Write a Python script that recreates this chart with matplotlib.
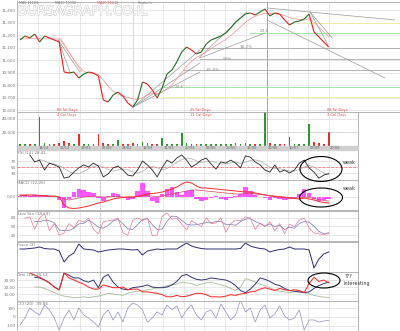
import numpy as np
import matplotlib.pyplot as plt
from matplotlib.collections import LineCollection
from matplotlib.patches import Ellipse
import matplotlib.patheffects as pe

nan = np.nan

# Price closes, one value per bar slot
close = [11160, 11192, 11176, 11208, 11144, 11192, 11176, 11160, 11144, 10904,
         10896, 10904, 10856, 10888, 10904, 10896, 10872, 10680, 10664, 10720,
         10744, 10712, 10656, 10624, 10680, 10824, 10808, 10760, 10696, 10776,
         10888, 10920, 10984, 11064, 11104, 11080, 11048, 11064, 11128, 11160,
         11176, 11192, 11216, 11256, 11304, 11336, 11368, 11376, 11360, 11384,
         11408, 11352, 11376, 11368, 11320, 11280, 11304, 11312, 11328, 11368,
         11224, 11184, 11144, 11104]
ma_slow = [11170, 11170, 11170, 11172, 11172, 11170, 11170, 11170, 11168, 11120,
           11060, 11000, 10950, 10910, 10895, 10890, 10885, 10840, 10790, 10750,
           10725, 10710, 10700, 10690, 10685, 10700, 10720, 10735, 10730, 10740,
           10770, 10800, 10850, 10900, 10950, 10990, 11020, 11040, 11065, 11090,
           11115, 11140, 11165, 11195, 11230, 11265, 11300, 11330, 11350, 11362,
           11375, 11372, 11370, 11366, 11355, 11340, 11330, 11322, 11320, 11330,
           11300, 11265, 11225, 11185]
volume = [3, 2.5, 3.5, 3, 42, 4, 2.5, 3, 4.5, 7,
          4, 3, 17, 3.5, 2.5, 3, 17, 5, 3.5, 3,
          9, 2.5, 3, 4, 3.5, 6, 4.5, 3, 3.5, 12,
          3, 2.5, 3.5, 19, 4, 3, 2.5, 3.5, 3, 2.5,
          3, 3.5, 2.5, 3, 4, 3.5, 4.5, 3, 2.5, 3.5,
          52, 4.5, 3, 2.5, 3.5, 13, 3, 2.5, 3.5, 32,
          6, 4, 3, 20]

rsi = [nan, nan, 90, 67, 73, 40, 63, 57, 50, 13, 17, 33, 47, 57, 50, 63, 53, 17, 27, 47,
       53, 40, 23, 20, 40, 70, 57, 40, 17, 47, 73, 63, 80, 90, 73, 50, 60, 73, 80, 60,
       43, 67, 63, 73, 63, 47, 87, 83, 67, 57, 40, 33, 57, 33, 40, 30, 40, 63, 73, 47,
       33, 13, 23, 28]
rsi_sig = [nan, nan, nan, nan, 75, 70, 62, 60, 55, 45, 35, 28, 28, 35, 45, 52, 55, 50, 42, 36,
           40, 44, 40, 34, 30, 35, 47, 52, 48, 40, 45, 55, 65, 75, 80, 78, 70, 65, 68, 70,
           65, 60, 60, 64, 66, 62, 66, 72, 74, 70, 60, 50, 45, 44, 40, 37, 36, 42, 50, 55,
           50, 40, 30, 25]

macd_hist = [1, 2, 1.5, 2, 1, 1.5, 1, 0.5, -3, -11, -2, 5, 8, 7, 5, 4, -1, -4, 1, 4,
             3, -1, -3, -2, 6, 14, 6, -4, -6, 3, 8, 10, 5, 2, 6, 7, -2, -4, -3, -1,
             1, -2, -3, -1, 1, 3, 10, 6, 2, 0, -1, -3, -1, -2, -3, -2, -1, 3, 8, 4,
             -2, -4, -3, -2]
macd_line = [2, 2, 2, 2, 1.5, 1.5, 1, 1, 0, -8, -11, -11.5, -11, -10, -9, -7.5, -6, -5, -3.5, -2,
             -1, -0.5, 0, 0, 0.5, 2, 3, 3.5, 4, 5, 6.5, 8, 10, 13, 15, 14, 11, 9, 9, 8.5,
             8, 7.5, 7, 6.5, 6, 5.5, 5, 5, 4, 3, 2, 1, 0.5, 0, -0.5, -1, -1.5, -2, -1, -2,
             -3, -4.5, -5.5, -6]
macd_sig = [1.5, 1.5, 1, 1, 1, 1, 0.5, 0.5, 0, -2, -3, -2, -1, 0, 0.5, 1, 0.5, 0, 0, 0.5,
            0.5, 0, 0, 0, 0.5, 1, 1.5, 1, 0.5, 1, 2, 3, 4, 5, 6, 7, 7, 6.5, 6, 5.5,
            5, 4.5, 4, 3.5, 3, 3, 3.5, 3.5, 3, 2.5, 2, 1.5, 1, 0.5, 0, -0.5, -1, -1, 0, -0.5,
            -1.5, -2.5, -3.5, -4]

stoch_k = [nan, 79, 83, 40, 79, 95, 35, 60, 20, 28, 60, 45, 72, 65, 79, 40, 25, 66, 70, 72,
           79, 28, 20, 72, 80, 70, 80, 18, 21, 85, 97, 75, 79, 58, 38, 70, 60, 50, 80, 60,
           62, 80, 30, 60, 72, 70, 83, 79, 40, 62, 50, 66, 35, 60, 25, 58, 50, 72, 79, 45,
           28, 25, 21, 30]
stoch_d = [nan, nan, nan, 67, 67, 71, 70, 63, 38, 36, 36, 44, 59, 61, 72, 61, 48, 44, 54, 69,
           74, 60, 42, 40, 57, 74, 77, 56, 40, 41, 68, 86, 84, 71, 58, 55, 56, 60, 63, 63,
           67, 67, 57, 57, 54, 67, 75, 77, 67, 60, 51, 59, 50, 54, 40, 48, 44, 60, 67, 65,
           51, 33, 25, 25]

force = [0, 0, 0.5, 1, 2, 0.5, 0, 0, -2, -13, -7, -4, 5, 0, -0.5, -1, -3, -2, -1, -0.5,
         0, 0, -0.5, -1, -0.5, -6, -2, -1, 0, -0.5, 0, 0, 0, 3, 6, 3, 1.5, 0.5, 0, 0,
         0, 0, 0, 0, 0, 0.5, 6, 3, 1.5, 0.5, 0, -3, -1.5, -0.5, 0, 2, 0, 0, 0, -1,
         -19, -10, -5, -3]

dmi_adx = [nan, nan, nan, 34, 33, 30, 26, 20, 16, 40, 37, 33, 33, 29, 27, 30, 19, 34, 38, 27,
           20, 17, 16, 19, 20, 21, 23, 20, 19, 19, 20, 23, 28, 36, 38, 34, 31, 30, 31, 33,
           32, 31, 30, 27, 22, 15, 12, 17, 24, 33, 31, 28, 24, 22, 18, 15, 14, 13, 12, 13,
           18, 22, 25, 27]
dmi_plus = [nan, nan, 40, 37, 34, 30, 26, 20, 16, 40, 33, 30, 27, 24, 20, 17, 17, 23, 21, 19,
            19, 20, 16, 17, 17, 13, 13, 12, 11, 9, 6, 6, 8, 6, 7, 9, 11, 11, 9, 6,
            6, 5.7, 7, 9, 8, 10, 11, 13, 14, 17, 19, 17, 15, 18, 16, 15, 16, 15, 12, 25,
            34, 28, 30, 26]
dmi_minus = [nan, nan, nan, 20, 20, 18, 15, 12, 9, 7, 6, 4.5, 5, 6, 5, 6, 7, 9, 11, 10,
             9, 8, 11, 13, 14, 15, 16, 17, 19, 20, 22, 23, 24, 27, 26, 25, 22, 24, 26, 27,
             25, 23, 21, 18, 15, 20, 32, 30, 27, 24, 22, 19, 16, 14, 13, 12, 13, 13, 12, 10,
             8, 6.5, 5.5, 5]

cci = [-94, -12, 105, 59, 23, 140, 82, -12, -152, -12, 82, -35, 105, 23, -12, -59, -117, 23, 82, -35,
       59, -59, 105, 164, 140, 82, -59, -12, 59, 23, 140, 82, 129, -12, 82, 140, 23, -35, 59, 82,
       -12, 152, 59, -35, 23, 199, 59, 105, -59, 82, 140, -12, 35, 129, 12, -35, -12, 82, -152, -35,
       -35, -59, -47, -40]

date_labels = ['14/12', '31/12', '19/01', '05/02', '24/02', '12/03', '31/03', '20/04',
               '07/05', '26/05', '11/06', '29/06', '16/07', '03/08', '20/08']
price_ticks = [10600, 10700, 10800, 10900, 11000, 11100, 11200, 11300, 11400]

# trend / fan lines drawn on the price panel: (i0, p0, i1, p1)
trend_lines = [(50.4, 11416, 76.5, 11320), (50.4, 11320, 74.5, 10856),
               (7.8, 11160, 10.2, 10904), (7.8, 11160, 12.2, 10904),
               (23.1, 10624, 36.7, 11080), (23.1, 10624, 36.7, 10976),
               (23.1, 10624, 36.7, 10904), (36.7, 11024, 46.3, 11384),
               (36.7, 11016, 50.0, 11216), (59.2, 11384, 62.9, 11120),
               (59.2, 11384, 63.7, 11176)]
# horizontal retracement levels: (start index, price, colour)
levels = [(29.2, 10784, '#8ee08e'), (46.9, 11216, '#8ee08e'),
          (29.2, 10704, '#eeee99'), (57.1, 11296, '#eeee99'),
          (36.7, 11096, '#aaaaaa'), (36.7, 11008, '#aaaaaa'), (33.3, 10920, '#aaaaaa')]
level_text = [(44.9, 11088, '38.2%'), (41.4, 10992, '50%'), (38.2, 10904, '61.8%'),
              (31.6, 10768, '23.6'), (49.0, 11216, '23.6')]

W, H = 400, 331
GRID = '#dddddd'
LBL = '#777777'
FS = 3


def box(x0, y0, x1, y1):
    return [x0 / W, 1 - y1 / H, (x1 - x0) / W, (y1 - y0) / H]


def px2i(px):
    return (px - 20) / 4.9


x = np.arange(len(close))
vgrid = [px2i(38 + 20.8 * k) for k in range(15)]

fig = plt.figure(figsize=(4, 3.31), dpi=100)
fig.patch.set_facecolor('white')


def panel(rect, right=358, ylim=None, yticks=(), ylabels=None, title=None):
    ax = fig.add_axes(box(17, rect[0], right, rect[1]))
    ax.set_xlim(px2i(17), px2i(right))
    if ylim:
        ax.set_ylim(*ylim)
    ax.set_xticks([])
    ax.set_yticks(list(yticks))
    ax.set_yticklabels(ylabels if ylabels else [str(t) for t in yticks])
    ax.tick_params(axis='y', labelsize=FS, length=0, pad=1, colors=LBL)
    for s in ax.spines.values():
        s.set_color('#aaaaaa')
        s.set_linewidth(0.6)
    for v in vgrid:
        ax.axvline(v, color=GRID, lw=0.5, zorder=0)
    for t in yticks:
        ax.axhline(t, color=GRID, lw=0.5, zorder=0)
    if title:
        ax.text(0.0, 0.97, title, transform=ax.transAxes, fontsize=FS, color=LBL, va='top', ha='left')
    return ax


# price panel
ax = panel((2, 112), right=400, ylim=(10584, 11464), yticks=price_ticks,
           ylabels=[f'{p:,}' for p in price_ticks])
ax.axvline(px2i(133), color='#f6d0d0', lw=0.8, zorder=0)
ax.axvline(px2i(267), color='#ff8080', lw=0.7, zorder=1)
for i0, p, c in levels:
    ax.plot([i0, px2i(400)], [p, p], color=c, lw=0.6, zorder=1)
for i0, p0, i1, p1 in trend_lines:
    ax.plot([i0, i1], [p0, p1], color='#999999', lw=0.5, zorder=2)
ax.plot([8.2, 12.6], [11176, 10904], color='#f2a0a0', lw=0.5)
ax.plot(x, ma_slow, color='#f4a0a0', lw=0.6, zorder=2)
segs = [[(i, close[i]), (i + 1, close[i + 1])] for i in range(len(close) - 1)]
cols = ['#1e6e1e' if close[i + 1] >= close[i] else '#e02020' for i in range(len(close) - 1)]
ax.add_collection(LineCollection(segs, colors=cols, linewidths=0.8, zorder=3))
for xi, yi, s in level_text:
    ax.text(xi, yi, s, fontsize=FS, color='#888888', ha='left', va='bottom')

# volume panel
ax = panel((112, 146), ylim=(0, 50), yticks=[20, 40], ylabels=['20,000', '40,000'])
vcols = ['#1e8e1e'] + ['#2a9a2a' if close[i] >= close[i - 1] else '#e03030' for i in range(1, len(close))]
ax.bar(x, volume, width=0.35, color=vcols, zorder=2)
ax.axhline(20, color='#bbbbbb', lw=0.5, ls=':')
ax.axvline(px2i(267), color='#ff8080', lw=0.7)

# date band
fig.add_artist(plt.Rectangle((17 / W, 1 - 150 / H), (358 - 17) / W, 4 / H,
                             transform=fig.transFigure, color='#cfcfcf', zorder=5))
for k, lab in enumerate(date_labels):
    fig.text((38 + 20.8 * k + 1) / W, 1 - 148 / H, lab, fontsize=2.6, color='#666666',
             va='center', ha='left', zorder=6)

# RSI
ax = panel((150, 180), ylim=(6.7, 106.7), yticks=[30, 50, 70], title='RSI (14) 28.41')
ax.axhline(50, color='#f08080', lw=0.6, ls='--')
ax.plot(x, rsi_sig, color='#aaaaaa', lw=0.5)
ax.plot(x, rsi, color='#222222', lw=0.6)

# MACD
ax = panel((180, 210), ylim=(-13, 17), yticks=[0], ylabels=['0.00'], title='MACD (12,26)')
ax.bar(x, macd_hist, width=0.9, color='#ff55ff', zorder=2)
ax.plot(x, macd_sig, color='#cc4466', lw=0.5, zorder=3)
ax.plot(x, macd_line, color='#ff2a2a', lw=0.7, zorder=3)

# Stochastic
ax = panel((211, 241), ylim=(0, 103.4), yticks=[20, 50, 80], title='Stoc Sto (14 / 3)')
ax.plot(x, stoch_d, color='#7777aa', lw=0.5)
ax.plot(x, stoch_k, color='#e07a9a', lw=0.5)

# Force
ax = panel((242, 272), ylim=(-23, 7), title='Force (2)')
ax.plot(x, force, color='#2c2c6c', lw=0.7)

# DMI
ax = panel((272, 301), ylim=(0, 41.5), yticks=[10, 20, 30],
           ylabels=['10.00', '20.00', '30.00'], title='Dmi (14) 25.13')
ax.plot(x, dmi_minus, color='#a8bc98', lw=0.6)
ax.plot(x, dmi_adx, color='#333377', lw=0.7)
ax.plot(x, dmi_plus, color='#ff2222', lw=0.7)

# CCI
ax = panel((301, 331), ylim=(-164, 187), yticks=[-100, 0, 100], title='CCI (20) -39.86')
ax.plot(x, cci, color='#9090b8', lw=0.5)

for a in fig.axes[3:]:
    a.axvline(px2i(100), color='#bbbbbb', lw=0.5, ls='--', zorder=0)

# overlay for notes, legend and watermark
ov = fig.add_axes([0, 0, 1, 1], zorder=10)
ov.set_xlim(0, W)
ov.set_ylim(H, 0)
ov.axis('off')
ov.patch.set_alpha(0)
ov.axvline(17, color='#bbbbbb', lw=0.5)
ov.text(18, 11.5, 'BURSAGRAPH.CO.IL', fontsize=9.5, color='white', ha='left', va='center',
        path_effects=[pe.withStroke(linewidth=0.8, foreground='#cccccc')])
for xp, s, c in [(19, 'MA5 11104', LBL), (55, 'MA10 11156', LBL),
                 (97, 'MA20 11212', '#e05050'), (138, 'Parabolic', LBL)]:
    ov.text(xp, 3.5, s, fontsize=2.4, color=c, va='center')
for xp, a, b in [(57, '86 Tal Days', '4 Cal Days'), (190, '45 Tal Days', '11 Cal Days'),
                 (327, '88 Tal Days', '3 Cal Days')]:
    ov.text(xp, 110, a, fontsize=2.6, color='#e05050', va='center')
    ov.text(xp, 115, b, fontsize=2.6, color='#e05050', va='center')
for cx, cy, w, h in [(321, 169, 42, 25), (321, 197.5, 43, 19), (324, 280.5, 32, 15)]:
    ov.add_patch(Ellipse((cx, cy), w, h, fill=False, ec='black', lw=0.8))
ov.text(343, 162, 'weak', fontsize=3.5, color='#333333', va='center')
ov.text(343, 189, 'weak', fontsize=3.5, color='#333333', va='center')
ov.text(345, 277, '???', fontsize=3.5, color='#333333', va='center')
ov.text(344, 283, 'interesting', fontsize=3.5, color='#333333', va='center')

fig.savefig('out.png', dpi=100)
